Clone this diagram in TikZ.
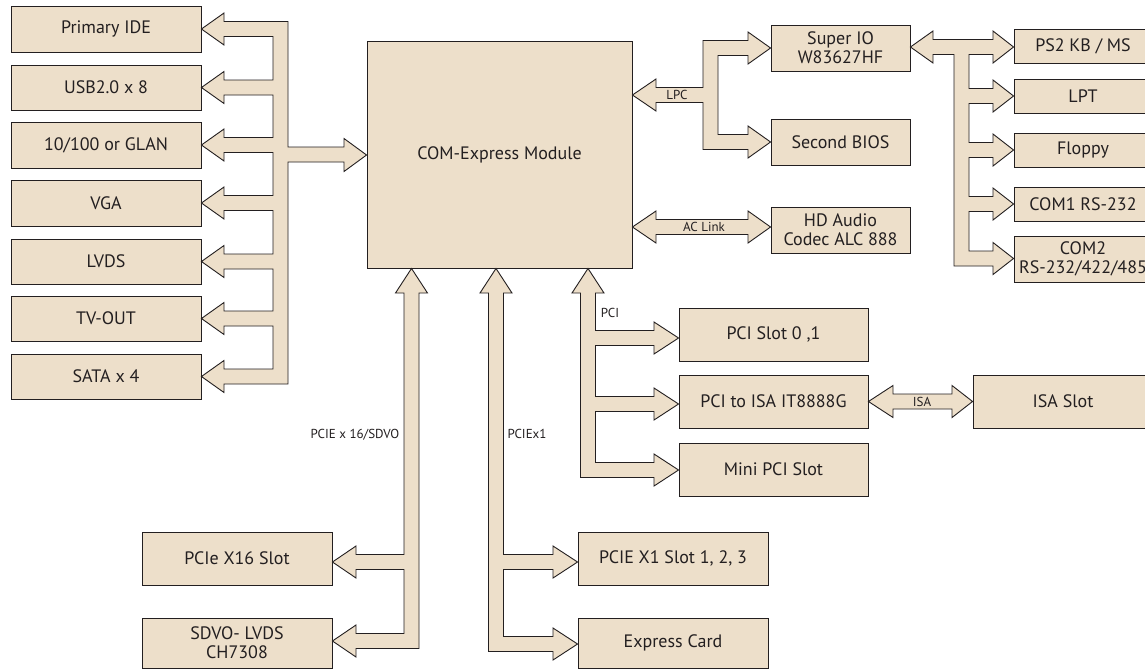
\documentclass[tikz,border=0pt]{standalone}
\usepackage{fontspec}
\setmainfont{PT Sans}
\usetikzlibrary{calc}
\definecolor{bfill}{RGB}{237,223,202}
\definecolor{bline}{RGB}{35,31,32}
% branch to a node on the left (path going upward along inner edge)
\newcommand\brL[4]{-- (#1,#4+7.5) -- (#2,#4+7.5) -- (#2,#4+16) -- (#3.east |- 0,#4) -- (#2,#4-16) -- (#2,#4-7.5) -- (#1,#4-7.5)}
% branch to a node on the right (path going downward along inner edge)
\newcommand\brR[4]{-- (#1,#4-7.5) -- (#2,#4-7.5) -- (#2,#4-16) -- (#3.west |- 0,#4) -- (#2,#4+16) -- (#2,#4+7.5) -- (#1,#4+7.5)}
\newcommand\mkbox[6]{\node[blk,minimum width={#4-#2},minimum height={#5-#3}] (#1) at ({(#2+#4)/2},{(#3+#5)/2}) {#6};}
\begin{document}
\begin{tikzpicture}[x=1pt,y=-1pt,
  blk/.style={draw=bline,fill=bfill,line width=0.9pt,inner sep=0pt,text=bline,align=center,font=\fontsize{18}{19}\selectfont},
  bus/.style={draw=bline,fill=bfill,line width=0.9pt,line join=miter},
  lbl/.style={inner sep=0pt,text=bline,font=\fontsize{13}{14}\selectfont}]
\useasboundingbox (0,0) rectangle (1145,670);
\clip (0,0) rectangle (1145,670);
\fill[white] (0,0) rectangle (1145,670);
% left column
\mkbox{ide}{11}{6}{201}{52}{Primary IDE}
\mkbox{usb}{11}{65}{201}{110}{USB2.0 x 8}
\mkbox{lan}{11}{122}{201}{168}{10/100 or GLAN}
\mkbox{vga}{11}{180}{201}{226}{VGA}
\mkbox{lvds}{11}{239}{201}{284}{LVDS}
\mkbox{tv}{11}{296}{201}{341}{TV-OUT}
\mkbox{sata}{11}{354}{201}{399}{SATA x 4}
% module
\mkbox{com}{367}{41}{632}{268}{COM-Express Module}
% LPC / audio
\mkbox{sio}{771}{25}{910}{71}{Super IO\\W83627HF}
\mkbox{bios}{771}{119}{910}{165}{Second BIOS}
\mkbox{hda}{771}{207}{910}{253}{HD Audio\\Codec ALC 888}
% right column
\mkbox{ps2}{1014}{29}{1152}{63}{PS2 KB / MS}
\mkbox{lpt}{1014}{79}{1152}{113}{LPT}
\mkbox{fdd}{1014}{133}{1152}{167}{Floppy}
\mkbox{comone}{1014}{187}{1152}{221}{COM1 RS-232}
\mkbox{comtwo}{1014}{236}{1152}{282}{COM2\\RS-232/422/485}
% PCI
\mkbox{pci}{679}{308}{868}{361}{PCI Slot 0 ,1}
\mkbox{isa}{679}{375}{868}{428}{PCI to ISA IT8888G}
\mkbox{mpci}{679}{443}{868}{496}{Mini PCI Slot}
\mkbox{isaslot}{973}{375}{1153}{428}{ISA Slot}
% bottom
\mkbox{xsixteen}{142}{532}{332}{585}{PCIe X16 Slot}
\mkbox{sdvo}{142}{618}{332}{668}{SDVO- LVDS\\CH7308}
\mkbox{xone}{578}{532}{768}{585}{PCIE X1 Slot 1, 2, 3}
\mkbox{ecard}{578}{618}{768}{668}{Express Card}

% left display bus
\draw[bus] (224,21.5) -- (288,21.5) -- (288,147) -- (344,147) -- (344,138.5)
  -- (com.west |- 0,155) -- (344,171.5) -- (344,162) -- (288,162) -- (288,384)
  -- (224,384) -- (224,392.5) -- (sata.east |- 0,376.5) -- (224,360.5) -- (224,369) -- (273,369)
  \brL{273}{224}{tv}{318.5} \brL{273}{224}{lvds}{261.5} \brL{273}{224}{vga}{203}
  \brL{273}{224}{lan}{145} \brL{273}{224}{usb}{87.5}
  -- (273,36.5) -- (224,36.5) -- (224,45) -- (ide.east |- 0,29) -- (224,13) -- cycle;

% LPC bus
\draw[bus] (com.east |- 0,95) -- (656,79) -- (656,87.5) -- (703,87.5) -- (703,40.5)
  -- (748,40.5) -- (748,32) -- (sio.west) -- (748,64) -- (748,55.5) -- (718,55.5)
  \brR{718}{748}{bios}{142}
  -- (703,149.5) -- (703,102.5) -- (656,102.5) -- (656,111) -- cycle;
\node[lbl] (lpclbl) at (677,95) {LPC};

% AC link
\draw[bus] (com.east |- 0,227) -- (656,211) -- (656,219.5) -- (748,219.5) -- (748,211)
  -- (hda.west |- 0,227) -- (748,243) -- (748,234.5) -- (656,234.5) -- (656,243) -- cycle;
\node[lbl] (aclbl) at (704,227) {AC Link};

% Super IO bus
\draw[bus] (sio.east |- 0,47) -- (933,31) -- (933,39.5) -- (993,39.5) -- (993,31)
  -- (ps2.west |- 0,47) -- (993,63) -- (993,54.5) -- (969,54.5)
  \brR{969}{993}{lpt}{96} \brR{969}{993}{fdd}{150} \brR{969}{993}{comone}{204}
  -- (969,251) -- (993,251) -- (993,242.5) -- (comtwo.west |- 0,258.5) -- (993,274.5)
  -- (993,266) -- (954,266) -- (954,54.5) -- (933,54.5) -- (933,63) -- cycle;

% PCI bus
\draw[bus] (com.south -| 588,0) -- (604,293) -- (595.5,293)
  \brR{595.5}{654}{pci}{338} \brR{595.5}{654}{isa}{404}
  -- (595.5,462.5) -- (654,462.5) -- (654,454) -- (mpci.west |- 0,470) -- (654,486)
  -- (654,477.5) -- (580.5,477.5) -- (580.5,293) -- (572,293) -- cycle;
\node[lbl] (pcilbl) at (610,313) {PCI};

% ISA link
\draw[bus] (isa.east |- 0,401.5) -- (893,385.5) -- (893,394) -- (952,394) -- (952,385.5)
  -- (isaslot.west |- 0,401.5) -- (952,417.5) -- (952,409) -- (893,409) -- (893,417.5) -- cycle;
\node[lbl] (isalbl) at (922,401.5) {ISA};

% PCIE x16 / SDVO bus
\draw[bus] (com.south -| 411.5,0) -- (427.5,293) -- (419,293) -- (419,648.5)
  -- (356,648.5) -- (356,657) -- (sdvo.east |- 0,641) -- (356,625) -- (356,633.5) -- (404,633.5)
  \brL{404}{356}{xsixteen}{562}
  -- (404,293) -- (395.5,293) -- cycle;
\node[lbl] (xlbl) at (355,435) {PCIE x 16/SDVO};

% PCIE x1 bus
\draw[bus] (com.south -| 496,0) -- (512,293) -- (503.5,293)
  \brR{503.5}{553}{xone}{562}
  -- (503.5,636.5) -- (553,636.5) -- (553,628) -- (ecard.west |- 0,644) -- (553,660)
  -- (553,651.5) -- (488.5,651.5) -- (488.5,293) -- (480,293) -- cycle;
\node[lbl] (x1lbl) at (527,434) {PCIEx1};
\end{tikzpicture}
\end{document}
